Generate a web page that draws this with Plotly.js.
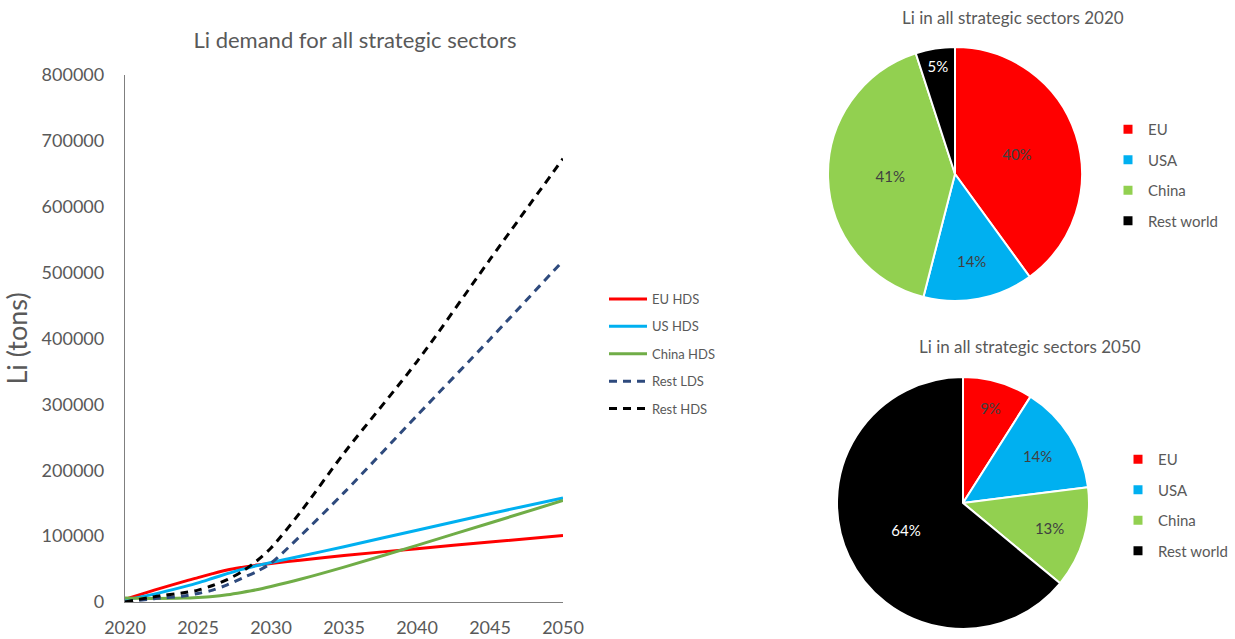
<!DOCTYPE html>
<html>
<head>
<meta charset="utf-8">
<script src="https://cdn.plot.ly/plotly-3.0.1.min.js"></script>
<style>
html,body{margin:0;padding:0;background:#fff;}
#chart{width:1235px;height:639px;}
</style>
</head>
<body>
<div id="chart"></div>
<script>
// ---- data ----
const years = [2020, 2022, 2024, 2025, 2026, 2027, 2028, 2029, 2030, 2032, 2035, 2040, 2045, 2050];
const euHDS    = [4000, 18000, 31000, 37000, 43000, 48500, 52500, 56000, 58500, 63500, 70500, 81000, 91000, 101000];
const usHDS    = [3000, 12000, 23000, 29000, 36000, 43000, 49500, 55000, 60000, 69500, 84000, 109000, 134000, 158000];
const chinaHDS = [6000, 5500, 6000, 7000, 8500, 11000, 14500, 18500, 23500, 34500, 53000, 86000, 120000, 154000];
const restLDS  = [0, 5000, 9000, 13000, 18000, 26000, 36000, 46000, 59000, 100000, 166000, 283000, 399000, 518000];
const restHDS  = [0, 8000, 14000, 18000, 25000, 34000, 46000, 62000, 82000, 136000, 226000, 365000, 520000, 673000];
const seriesNames = ["EU HDS", "US HDS", "China HDS", "Rest LDS", "Rest HDS"];

const regions = ["EU", "USA", "China", "Rest world"];
const share2020 = [40, 14, 41, 5];
const share2050 = [9, 14, 13, 64];

const yTicks = [0, 100000, 200000, 300000, 400000, 500000, 600000, 700000, 800000];
const xTicks = [2020, 2025, 2030, 2035, 2040, 2045, 2050];

// ---- styling ----
const W = 1235, H = 639;
const FONT = "Lato, 'Open Sans', sans-serif";
const GREY = "#595959";
const px = v => v / W;
const py = v => 1 - v / H;

const lineSeries = [euHDS, usHDS, chinaHDS, restLDS, restHDS];
const lineColors = ["#FF0000", "#00B0F0", "#70AD47", "#2E4A7D", "#000000"];
const lineDash = ["solid", "solid", "solid", "8px,6px", "8px,6px"];
const pieColors = ["#FF0000", "#00B0F0", "#92D050", "#000000"];

const traces = lineSeries.map((ys, i) => ({
  type: "scatter", mode: "lines",
  x: years, y: ys, name: seriesNames[i],
  legendgroup: "g" + i,
  line: {color: lineColors[i], width: 3, dash: lineDash[i], shape: "spline", smoothing: 0.8},
  xaxis: "x", yaxis: "y", legend: "legend", hoverinfo: "x+y+name"
}));

function pieTrace(vals, dom) {
  return {
    type: "pie", labels: regions, values: vals, sort: false,
    direction: "clockwise", rotation: 0,
    marker: {colors: pieColors, line: {color: "#ffffff", width: 2}},
    textinfo: "percent", textposition: "inside",
    insidetextorientation: "horizontal",
    texttemplate: "%{percent:.0%}",
    textfont: {family: FONT, size: 15, color: pieColors.map((c, k) => k === 3 ? "#ffffff" : "#404040")},
    domain: dom, showlegend: false, hoverinfo: "label+percent"
  };
}

traces.push(pieTrace(share2020, {x: [px(828), px(1082)], y: [py(301), py(47)]}));
traces.push(pieTrace(share2050, {x: [px(837), px(1089)], y: [py(629), py(377)]}));

// legend entries for the two pies (one per region, per pie)
["legend2", "legend3"].forEach((leg, li) => {
  regions.forEach((r, k) => {
    traces.push({
      type: "scatter", mode: "markers", x: [null], y: [null],
      name: r, legend: leg, legendgroup: leg + "_" + k,
      marker: {symbol: "square", size: 9, color: pieColors[k]},
      xaxis: "x", yaxis: "y", hoverinfo: "skip", showlegend: true
    });
  });
});

const layout = {
  width: W, height: H,
  margin: {l: 0, r: 0, t: 0, b: 0},
  paper_bgcolor: "#ffffff", plot_bgcolor: "#ffffff",
  font: {family: FONT, color: GREY},
  title: {
    text: "Li demand for all strategic sectors",
    font: {family: FONT, size: 22, color: GREY},
    xref: "paper", yref: "paper", x: px(355), y: py(40), xanchor: "center", yanchor: "middle"
  },
  xaxis: {
    domain: [px(125), px(563)], range: [2020, 2050],
    tickvals: xTicks, ticktext: xTicks.map(String),
    showgrid: false, zeroline: false, showline: true, linecolor: "#7F7F7F", linewidth: 1.3,
    ticks: "", ticklabelstandoff: 9,
    tickfont: {family: FONT, size: 18, color: GREY}, fixedrange: true
  },
  yaxis: {
    domain: [py(602), py(75)], range: [0, 800000],
    tickvals: yTicks, ticktext: yTicks.map(String),
    showgrid: false, zeroline: false, showline: true, linecolor: "#7F7F7F", linewidth: 1.3,
    ticks: "", ticklabelstandoff: 16,
    tickfont: {family: FONT, size: 18, color: GREY}, fixedrange: true,
    title: {text: "Li (tons)", font: {family: FONT, size: 27, color: GREY}, standoff: 12}
  },
  legend: {
    x: px(604), y: py(284), xanchor: "left", yanchor: "top",
    font: {family: FONT, size: 13, color: GREY},
    traceorder: "grouped", tracegroupgap: 7.5, itemwidth: 38,
    bgcolor: "rgba(0,0,0,0)"
  },
  legend2: {
    x: px(1108), y: py(113), xanchor: "left", yanchor: "top",
    font: {family: FONT, size: 15, color: GREY},
    traceorder: "grouped", tracegroupgap: 8, itemwidth: 30,
    bgcolor: "rgba(0,0,0,0)"
  },
  legend3: {
    x: px(1118), y: py(443), xanchor: "left", yanchor: "top",
    font: {family: FONT, size: 15, color: GREY},
    traceorder: "grouped", tracegroupgap: 8, itemwidth: 30,
    bgcolor: "rgba(0,0,0,0)"
  },
  annotations: [
    {text: "Li in all strategic sectors 2020", xref: "paper", yref: "paper",
     x: px(1013), y: py(17), xanchor: "center", yanchor: "middle", showarrow: false,
     font: {family: FONT, size: 17, color: GREY}},
    {text: "Li in all strategic sectors 2050", xref: "paper", yref: "paper",
     x: px(1030), y: py(347), xanchor: "center", yanchor: "middle", showarrow: false,
     font: {family: FONT, size: 17, color: GREY}}
  ],
  showlegend: true
};

Plotly.newPlot("chart", traces, layout, {displayModeBar: false});
</script>
</body>
</html>
